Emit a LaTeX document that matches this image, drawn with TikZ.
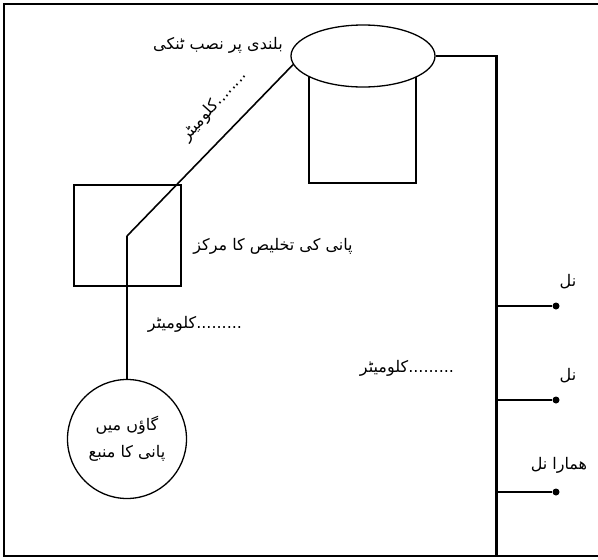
\documentclass[tikz,border=0pt]{standalone}
\usepackage{fontspec}
\usetikzlibrary{shapes.geometric}
\TeXXeTstate=1
\newfontfamily\urdu[Script=Arabic]{DejaVu Sans}
\begin{document}
\begin{tikzpicture}[x=1pt,y=-1pt,
  outl/.style={draw, line width=1.3pt, inner sep=0pt},
  pipe/.style={line width=2.2pt},
  lbl/.style={font=\urdu\fontsize{16}{22}\selectfont, inner sep=1pt},
  tapdot/.style={circle, fill=black, inner sep=0pt, minimum size=7pt}]
\useasboundingbox (0,0) rectangle (598,560);
% frame
\draw[line width=1.4pt] (602,4) -- (4,4) -- (4,556) -- (602,556);
% tank base and tank
\node[outl, minimum width=107pt, minimum height=123pt] (base) at (362.5,121.5) {};
\node[outl, ellipse, fill=white, minimum width=144pt, minimum height=62pt] (tank) at (363,56) {};
% treatment plant
\node[outl, minimum width=107pt, minimum height=101pt] (plant) at (127.5,235.5) {};
% village source
\node[outl, circle, minimum size=119pt, align=center, font=\urdu\fontsize{16}{27}\selectfont] (source) at (127,439)
  {\beginR گاؤں میں\endR\\\beginR پانی کا منبع\endR};
% connectors
\coordinate (bend) at (127,236);
\draw[line width=1.6pt] (tank.187) -- (bend);
\draw[pipe] (bend) -- (source.north);
\coordinate (corner) at (496.5,56);
\coordinate (bottom) at (496.5,556);
\draw[pipe] (tank.east) -- (corner) -- (bottom);
\node[tapdot] (tap1) at (556,306) {};
\node[tapdot] (tap2) at (556,400) {};
\node[tapdot] (tap3) at (556,492) {};
\coordinate (j1) at (496.5,306);
\coordinate (j2) at (496.5,400);
\coordinate (j3) at (496.5,492);
\draw[pipe] (j1) -- (tap1);
\draw[pipe] (j2) -- (tap2);
\draw[pipe] (j3) -- (tap3);
% labels
\node[lbl] (ltank) at (218,45) {\beginR بلندی پر نصب ٹنکی\endR};
\node[lbl, rotate=48] (lkm0) at (214,106) {\beginR ........کلومیٹر\endR};
\node[lbl] (lplant) at (273,246) {\beginR پانی کی تخلیص کا مرکز\endR};
\node[lbl] (lkm1) at (195,324) {\beginR .........کلومیٹر\endR};
\node[lbl] (lkm2) at (407,368) {\beginR .........کلومیٹر\endR};
\node[lbl] (ltap1) at (568,282) {\beginR نل\endR};
\node[lbl] (ltap2) at (568,376) {\beginR نل\endR};
\node[lbl] (ltap3) at (559,465) {\beginR همارا نل\endR};
\end{tikzpicture}
\end{document}
